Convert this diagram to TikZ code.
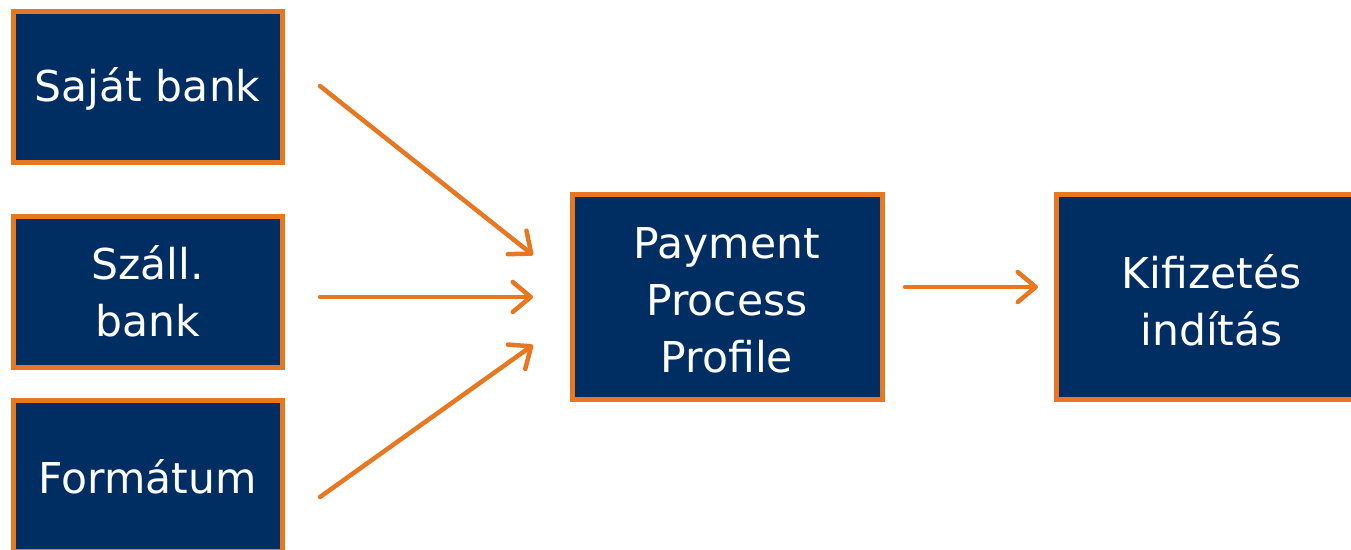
\documentclass[tikz,border=0pt]{standalone}
\usepackage{fontspec}
\setmainfont{DejaVu Sans}
\usetikzlibrary{arrows.meta}
\definecolor{navy}{RGB}{0,45,98}
\definecolor{borange}{RGB}{232,119,34}
\newcommand{\lowertext}[2]{\raisebox{-#1}[\height][\depth]{#2}}
\begin{document}
\begin{tikzpicture}[x=1pt,y=-1pt,
  box/.style={draw=borange,fill=navy,line width=5pt,text=white,align=center,
    inner sep=0pt,outer sep=0pt,font=\fontsize{42.5}{57}\selectfont},
  smallbox/.style={box,minimum width=268.5pt,minimum height=150.5pt},
  bigbox/.style={box,minimum width=310pt,minimum height=205pt},
  conn/.style={draw=borange,line width=4.5pt,line cap=round,
    -{Straight Barb[length=18pt,width=30pt,line cap=round,line join=round]}}]
\useasboundingbox (0,0) rectangle (1351,549);
\clip (0,0) rectangle (1351,549);
\node[smallbox] (saj) at (147.75,86.75) {\lowertext{2.5pt}{Saját bank}};
\node[smallbox] (szal) at (147.75,291.75) {Száll.\\bank};
\node[smallbox] (form) at (147.75,475.75) {\lowertext{1pt}{Formátum}};
\node[bigbox] (ppp) at (727,297) {\lowertext{3pt}{\parbox{300pt}{\centering Payment\\Process\\Profile}}};
\node[bigbox] (kif) at (1211.5,297) {\lowertext{3pt}{\parbox{300pt}{\centering Kifizetés\\indítás}}};
\coordinate (a1s) at ([xshift=38pt,yshift=0.75pt]saj.east);
\coordinate (a1e) at ([xshift=-39pt,yshift=42pt]ppp.west);
\coordinate (a2s) at ([xshift=38pt,yshift=-5.25pt]szal.east);
\coordinate (a2e) at ([xshift=-39pt]ppp.west);
\coordinate (a3s) at ([xshift=38pt,yshift=-21.25pt]form.east);
\coordinate (a3e) at ([xshift=-39pt,yshift=-48pt]ppp.west);
\coordinate (a4s) at ([xshift=23pt,yshift=10pt]ppp.east);
\coordinate (a4e) at ([xshift=-18.5pt,yshift=10pt]kif.west);
\draw[conn] (a1s) -- (a1e);
\draw[conn] (a2s) -- (a2e);
\draw[conn] (a3s) -- (a3e);
\draw[conn] (a4s) -- (a4e);
\end{tikzpicture}
\end{document}
